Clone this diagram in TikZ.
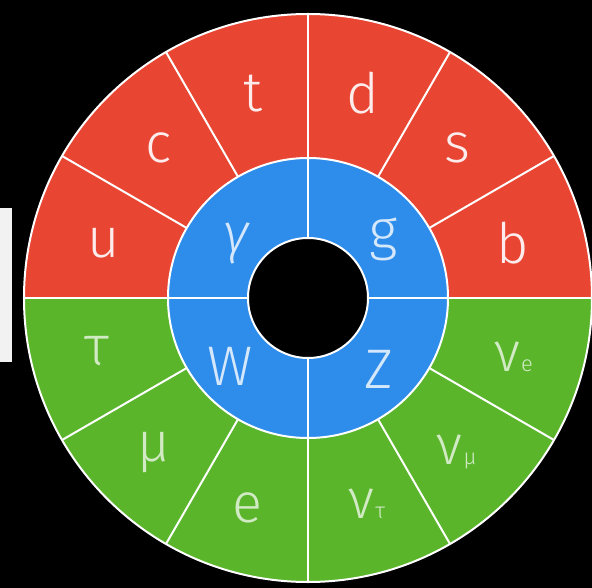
\documentclass[tikz,border=0pt]{standalone}
\usepackage{fontspec}
\setmainfont{Fira Sans Light}
\usepackage{tikz}

\definecolor{quarkred}{HTML}{E84532}
\definecolor{leptongreen}{HTML}{5AB52B}
\definecolor{bosonblue}{HTML}{2E8CEA}
\newcommand{\subfont}{\fontsize{22}{22}\selectfont}

\begin{document}
\begin{tikzpicture}[
            x=1bp, y=1bp,
            particle/.style={font=\fontsize{56}{60}\selectfont, inner sep=0pt},
            quark/.style={particle, text=quarkred!10!white},
            lepton/.style={particle, text=leptongreen!28!white},
            boson/.style={particle, text=bosonblue!20!white},
            divider/.style={white, line width=2bp}
        ]
        \useasboundingbox (-308,-290) rectangle (284,298);
        \fill[black] (-308,-290) rectangle (284,298);
        \fill[white!90!gray] (-308,-64) rectangle (-296,90);

        % Rings
        \fill[quarkred] (0:284) arc (0:180:284) -- (180:140) arc (180:0:140) -- cycle;
        \fill[leptongreen] (180:284) arc (180:360:284) -- (0:140) arc (360:180:140) -- cycle;
        \fill[bosonblue, even odd rule] (0,0) circle (140) (0,0) circle (60);

        % Dividers
        \foreach \a in {0,30,...,330}
            \draw[divider] (\a:140) -- (\a:284);
        \foreach \a in {0,90,180,270}
            \draw[divider] (\a:60) -- (\a:140);
        \foreach \r in {60,140,284}
            \draw[divider] (0,0) circle (\r);

        % Quarks
        \foreach \a/\n in {165/u, 135/c, 105/t, 75/d, 45/s, 15/b}
            \node[quark] (\n) at (\a:212) {\n};

        % Leptons
        \foreach \a/\n/\lbl in {194/tau/τ, 225/mu/μ, 254/e/e}
            \node[lepton] (\n) at (\a:218) {\lbl};
        \foreach \a/\n/\lbl in {286/nutau/τ, 314/numu/μ, 344/nue/e}
            \node[lepton] (\n) at (\a:214) {ν\kern1bp{\subfont\lbl}};

        % Bosons
        \node[boson] (gamma) at (-72,55) {\itshape γ};
        \node[boson] (g) at (76,59) {g};
        \node[boson] (W) at (-78,-68) {W};
        \node[boson] (Z) at (71,-71) {Z};
        \end{tikzpicture}
\end{document}
